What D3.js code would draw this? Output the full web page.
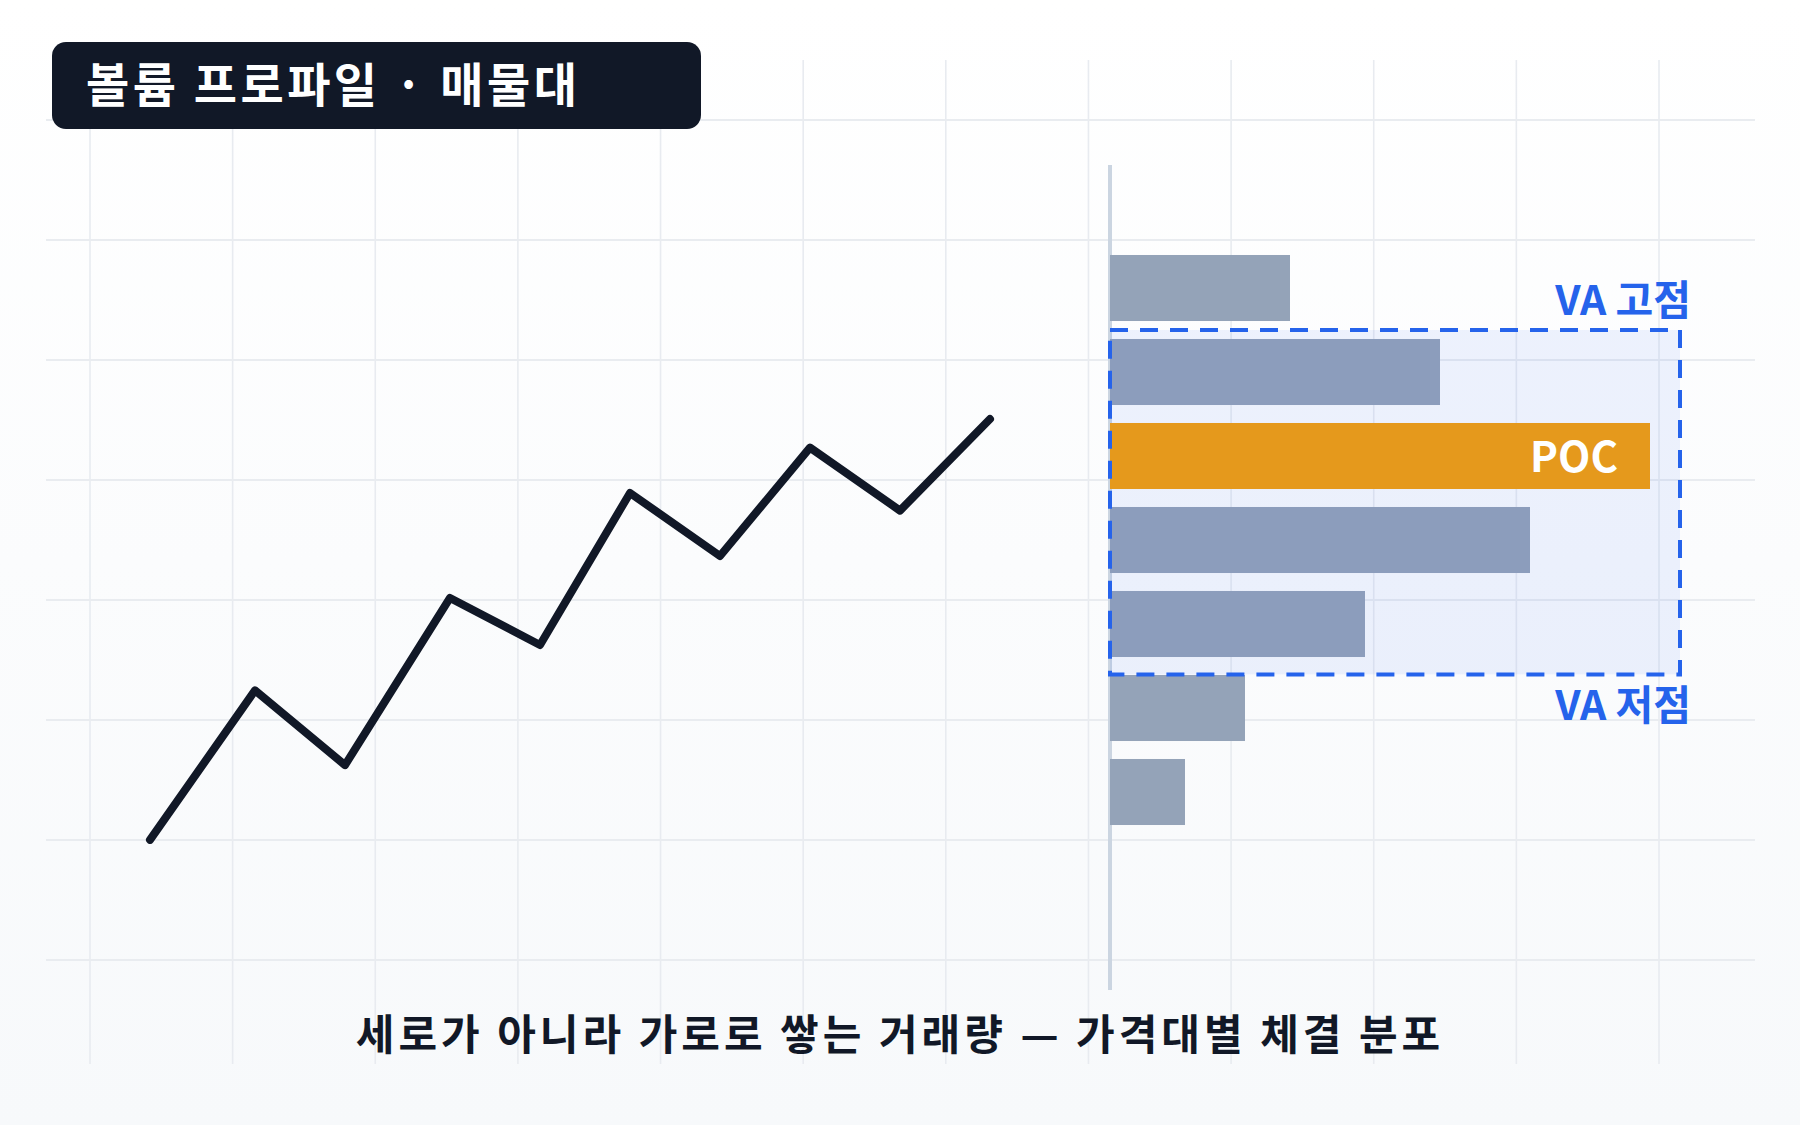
<!DOCTYPE html>
<html>
<head>
<meta charset="utf-8">
<script src="https://cdn.jsdelivr.net/npm/d3@7"></script>
<style>
  body { margin: 0; background: #fff; }
  svg { display: block; }
</style>
</head>
<body>
<div id="chart"></div>
<script>
// price bins (top to bottom) and traded volume per bin
var priceLevels = [80, 70, 60, 50, 40, 30, 20];
var volumes = [12, 22, 36, 28, 17, 9, 5];
var pocLevel = 60;
var vaHigh = 75, vaLow = 34;

// price path on the left
var times = [0, 7, 13, 20, 26, 32, 38, 44, 50, 56];
var prices = [14.3, 32.1, 23.2, 43.1, 37.5, 55.6, 48.1, 61, 53.5, 64.4];

var titleText = "볼륨 프로파일 · 매물대";
var captionText = "세로가 아니라 가로로 쌓는 거래량 — 가격대별 체결 분포";
var vaLabels = ["VA 고점", "VA 저점"];
var pocLabel = "POC";

var w = 1800, h = 1125;
var font = "'Noto Sans CJK KR', 'Noto Sans', sans-serif";

var svg = d3.select("#chart").append("svg")
    .attr("width", w)
    .attr("height", h);

var defs = svg.append("defs");
var bg = defs.append("linearGradient")
    .attr("id", "bg")
    .attr("x1", 0).attr("y1", 0).attr("x2", 0).attr("y2", 1);
bg.append("stop").attr("offset", "0%").attr("stop-color", "#ffffff");
bg.append("stop").attr("offset", "100%").attr("stop-color", "#f7f9fb");

svg.append("rect")
    .attr("width", w).attr("height", h)
    .attr("fill", "url(#bg)");

// scales
var yPrice = d3.scaleLinear().domain([0, 100]).range([960, 120]);
var xTime = d3.scaleLinear().domain([0, 56]).range([150, 990]);
var xVol = d3.scaleLinear().domain([0, 40]).range([1110, 1710]);
var yBand = d3.scaleBand()
    .domain(priceLevels)
    .range([yPrice(85), yPrice(15)])
    .paddingInner(0.214)
    .paddingOuter(0.107);

// background grid
var gx = d3.scaleLinear().domain([0, 11]).range([90, 1659]);
var gy = d3.scaleLinear().domain([1, 8]).range([120, 960]);

var grid = svg.append("g");
grid.selectAll("line.v")
    .data(d3.range(0, 12))
    .enter().append("line")
    .attr("class", "v")
    .attr("x1", d => gx(d)).attr("x2", d => gx(d))
    .attr("y1", 60).attr("y2", 1064)
    .style("stroke", "#e8ebf0")
    .style("stroke-width", 1.6);
grid.selectAll("line.h")
    .data(d3.range(1, 9))
    .enter().append("line")
    .attr("class", "h")
    .attr("x1", 46).attr("x2", 1755)
    .attr("y1", d => gy(d)).attr("y2", d => gy(d))
    .style("stroke", "#e9ecf0")
    .style("stroke-width", 2);

// price line
var line = d3.line()
    .x(function(d, i) { return xTime(times[i]); })
    .y(function(d) { return yPrice(d); });

svg.append("path")
    .datum(prices)
    .attr("d", line)
    .attr("fill", "none")
    .style("stroke", "#111827")
    .style("stroke-width", 8)
    .style("stroke-linejoin", "round")
    .style("stroke-linecap", "round");

// profile baseline
svg.append("line")
    .attr("x1", xVol(0)).attr("x2", xVol(0))
    .attr("y1", 165).attr("y2", 990)
    .style("stroke", "#cbd5e1")
    .style("stroke-width", 4);

// volume bars
svg.append("g").selectAll("rect")
    .data(priceLevels)
    .enter().append("rect")
    .attr("x", xVol(0))
    .attr("y", d => yBand(d))
    .attr("width", (d, i) => xVol(volumes[i]) - xVol(0))
    .attr("height", yBand.bandwidth())
    .attr("fill", d => d === pocLevel ? "#f59e0b" : "#94a3b8");

// value area box
var vaTop = yPrice(vaHigh), vaBottom = yPrice(vaLow);
svg.append("rect")
    .attr("x", xVol(0))
    .attr("y", vaTop)
    .attr("width", xVol(38) - xVol(0))
    .attr("height", vaBottom - vaTop)
    .attr("fill", "#2563eb")
    .attr("fill-opacity", 0.075)
    .style("stroke", "#2563eb")
    .style("stroke-width", 4)
    .style("stroke-dasharray", "18,12");

// POC label
var pocIndex = priceLevels.indexOf(pocLevel);
svg.append("text")
    .attr("x", xVol(volumes[pocIndex]) - 32)
    .attr("y", yBand(pocLevel) + yBand.bandwidth() / 2 + 16)
    .attr("text-anchor", "end")
    .style("font-family", font)
    .style("font-weight", 700)
    .style("font-size", "42px")
    .style("fill", "#ffffff")
    .text(pocLabel);

// VA labels
svg.append("text")
    .attr("x", 1691)
    .attr("y", vaTop - 15)
    .attr("text-anchor", "end")
    .style("font-family", font)
    .style("font-weight", 700)
    .style("font-size", "41px")
    .style("fill", "#2563eb")
    .text(vaLabels[0]);

svg.append("text")
    .attr("x", 1691)
    .attr("y", vaBottom + 46)
    .attr("text-anchor", "end")
    .style("font-family", font)
    .style("font-weight", 700)
    .style("font-size", "41px")
    .style("fill", "#2563eb")
    .text(vaLabels[1]);

// title badge
svg.append("rect")
    .attr("x", 52).attr("y", 42)
    .attr("width", 649).attr("height", 87)
    .attr("rx", 14)
    .attr("fill", "#111827");

svg.append("text")
    .attr("x", 86)
    .attr("y", 102)
    .style("font-family", font)
    .style("font-weight", 700)
    .style("font-size", "47px")
    .style("letter-spacing", "3.5px")
    .style("fill", "#ffffff")
    .text(titleText);

// caption
svg.append("text")
    .attr("x", 900)
    .attr("y", 1050)
    .attr("text-anchor", "middle")
    .style("font-family", font)
    .style("font-weight", 700)
    .style("font-size", "42px")
    .style("letter-spacing", "4px")
    .style("fill", "#111827")
    .text(captionText);
</script>
</body>
</html>
